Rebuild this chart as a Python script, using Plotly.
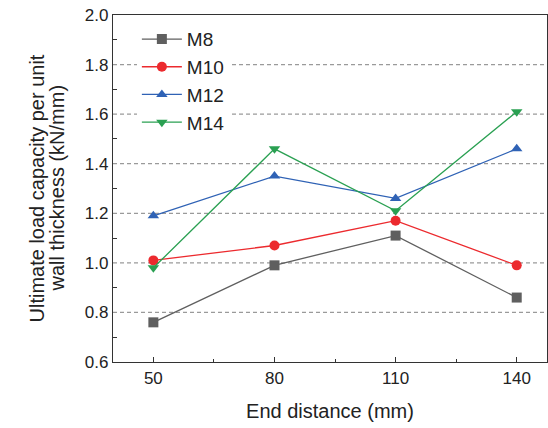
import plotly.graph_objects as go

end_distance = [50, 80, 110, 140]
m8 = [0.76, 0.99, 1.11, 0.86]
m10 = [1.01, 1.07, 1.17, 0.99]
m12 = [1.19, 1.35, 1.26, 1.46]
m14 = [0.98, 1.46, 1.21, 1.61]
series_names = ["M8", "M10", "M12", "M14"]
y_ticks = [0.6, 0.8, 1.0, 1.2, 1.4, 1.6, 1.8, 2.0]
y_title_lines = ["Ultimate load capacity per unit", "wall thickness (kN/mm)"]
x_title = "End distance (mm)"

styles = [
    ("#5f5f5f", "square"),
    ("#ec2a2e", "circle"),
    ("#2f62b5", "triangle-up"),
    ("#2aa052", "triangle-down"),
]

fig = go.Figure()
for name, vals, (col, sym) in zip(series_names, [m8, m10, m12, m14], styles):
    fig.add_trace(go.Scatter(
        x=end_distance, y=vals, name=name, mode="lines+markers",
        line=dict(color=col, width=1.3),
        marker=dict(symbol=sym, size=10, color=col),
    ))

# dashed grid lines
for yv in [0.8, 1.0, 1.2, 1.4, 1.6, 1.8]:
    fig.add_shape(type="line", xref="paper", yref="y", x0=0, x1=1, y0=yv, y1=yv,
                  line=dict(color="#9a9a9a", width=1.2, dash="4px,3px"), layer="below")

# two-line y-axis title with tight line spacing
for txt, shift in zip(y_title_lines, [-77, -57]):
    fig.add_annotation(text=txt, xref="paper", yref="paper", x=0, y=0.5,
                       xanchor="center", yanchor="middle", xshift=shift,
                       textangle=-90, showarrow=False,
                       font=dict(size=20, color="#222"))

fig.update_layout(
    width=548, height=428,
    margin=dict(l=113, r=1, t=15, b=66),
    paper_bgcolor="white", plot_bgcolor="white",
    font=dict(family="Liberation Sans, Arial, sans-serif", size=17, color="#222"),
    showlegend=True,
    legend=dict(x=0.055, y=0.985, xanchor="left", yanchor="top",
                bgcolor="white", font=dict(size=19, color="#222"),
                tracegroupgap=0, itemwidth=40),
    xaxis=dict(
        range=[40, 147.5], tickvals=end_distance, ticks="inside", ticklen=5,
        tickcolor="#333", showgrid=False, zeroline=False,
        showline=True, linecolor="#333", linewidth=1.2, mirror=True,
        minor=dict(tickvals=[65, 95, 125], ticks="inside", ticklen=3, tickcolor="#333"),
        title=dict(text=x_title, font=dict(size=20), standoff=17),
        tickfont=dict(size=17),
    ),
    yaxis=dict(
        range=[0.6, 2.0], tickvals=y_ticks, ticktext=[f"{v:.1f}" for v in y_ticks],
        ticks="", showgrid=False, zeroline=False,
        showline=True, linecolor="#333", linewidth=1.2, mirror=True,
        minor=dict(tickvals=[0.7, 0.9, 1.1, 1.3, 1.5, 1.7, 1.9], ticks="inside",
                   ticklen=4, tickcolor="#333"),
        tickfont=dict(size=17),
    ),
)

fig.write_html("out.html", config={"displayModeBar": False},
               post_script="document.body.style.margin='0';document.body.style.overflow='hidden';")
